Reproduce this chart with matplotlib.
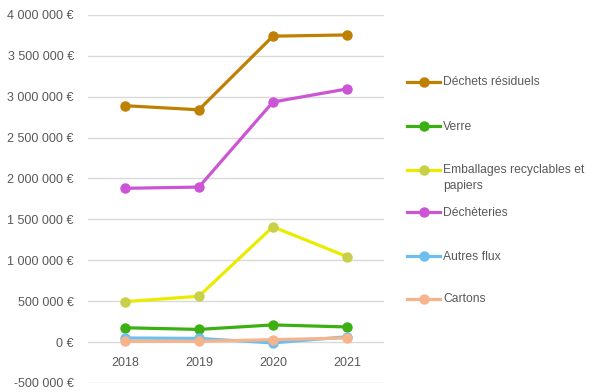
import matplotlib.pyplot as plt
from matplotlib.lines import Line2D
from matplotlib.ticker import FuncFormatter

years = ["2018", "2019", "2020", "2021"]
dechets_residuels = [2890000, 2840000, 3740000, 3755000]
verre = [175000, 155000, 210000, 185000]
emballages = [495000, 560000, 1410000, 1045000]
decheteries = [1880000, 1895000, 2935000, 3095000]
autres_flux = [50000, 45000, -10000, 65000]
cartons = [10000, 10000, 30000, 50000]

labels = ["Déchets résiduels", "Verre", "Emballages recyclables et\npapiers",
          "Déchèteries", "Autres flux", "Cartons"]
series = [dechets_residuels, verre, emballages, decheteries, autres_flux, cartons]
line_colors = ["#BF7F00", "#3CAF12", "#EBEB00", "#CC55D6", "#6CBFEF", "#F6B48C"]
marker_colors = ["#BF7F00", "#3CAF12", "#C8CF48", "#CC55D6", "#6CBFEF", "#F6B48C"]

plt.rcParams["font.family"] = ["Liberation Sans", "DejaVu Sans"]

W, H = 589, 392
fig = plt.figure(figsize=(W / 100, H / 100), dpi=100)
ax = fig.add_axes([0.149, 0.023, 0.503, 0.939])

x = range(len(years))
for vals, lab, lc, mc in zip(series, labels, line_colors, marker_colors):
    ax.plot(x, vals, color=lc, lw=2.3, marker="o", ms=6.5,
            markerfacecolor=mc, markeredgecolor=mc, label=lab, solid_capstyle="round")

ax.set_xlim(-0.5, 3.5)
ax.set_ylim(-500000, 4000000)
ax.set_yticks(range(-500000, 4000001, 500000))

def euro(v, pos):
    s = f"{abs(int(v)):,}".replace(",", " ")
    return ("-" if v < 0 else "") + s + " €"

ax.yaxis.set_major_formatter(FuncFormatter(euro))
ax.set_xticks(list(x))
ax.set_xticklabels(years)
ax.grid(axis="y", color="#D9D9D9", lw=1)
ax.set_axisbelow(True)
for sp in ax.spines.values():
    sp.set_visible(False)
ax.spines["bottom"].set_position(("data", 0))
ax.tick_params(axis="both", length=0, colors="#595959", labelsize=9)
ax.tick_params(axis="x", pad=11)
ax.tick_params(axis="y", pad=10)

# legend drawn by hand, Excel-style spacing
leg_y = [82, 126, 170, 212, 256, 299]
for yp, lab, lc, mc in zip(leg_y, labels, line_colors, marker_colors):
    yf = 1 - yp / H
    fig.add_artist(Line2D([407 / W, 440 / W], [yf, yf], color=lc, lw=2.3,
                          transform=fig.transFigure))
    fig.add_artist(Line2D([423.5 / W], [yf], marker="o", ms=6.5, color=mc,
                          transform=fig.transFigure))
    fig.text(443 / W, yf + 5.5 / H, lab, fontsize=8.7, color="#595959",
             va="top", ha="left", linespacing=1.4)

fig.savefig("out.png", dpi=100)
